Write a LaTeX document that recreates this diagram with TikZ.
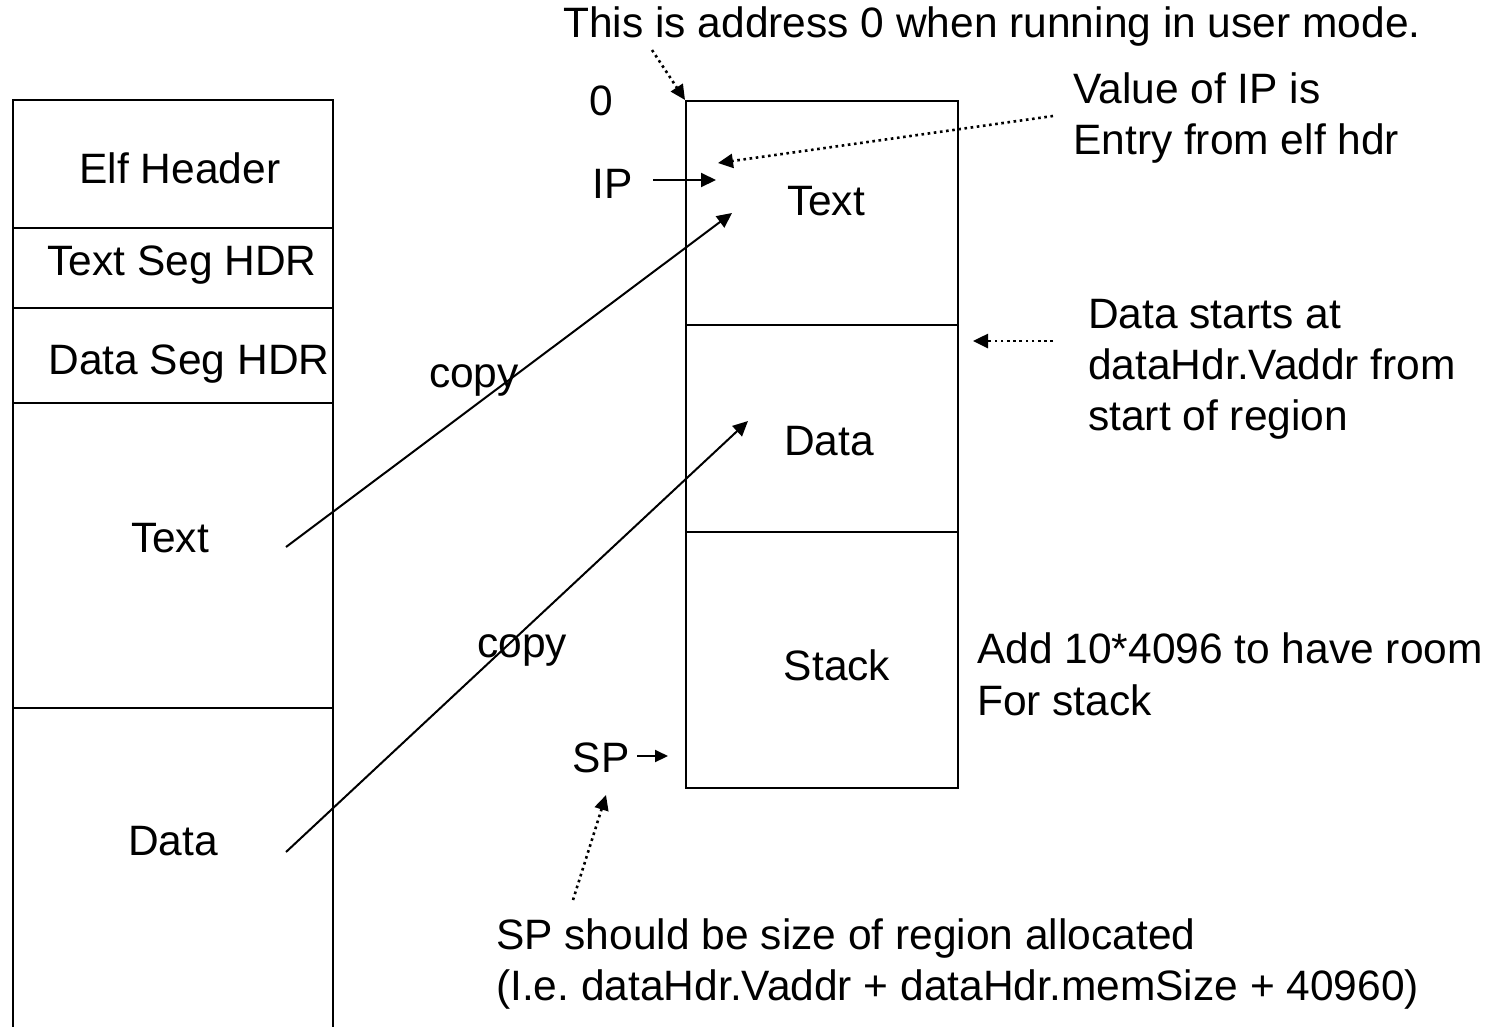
\documentclass[tikz,border=0pt]{standalone}
\usepackage{fontspec}
\setmainfont{Liberation Sans}
\usetikzlibrary{arrows.meta}
\frenchspacing
\begin{document}
\begin{tikzpicture}[x=1pt,y=-1pt,
  frame/.style={line width=2.2pt},
  seg/.style={draw,line width=2.2pt,inner sep=0pt,minimum width=272pt},
  lbl/.style={font=\fontsize{42.5}{51}\selectfont,inner sep=0pt,anchor=base},
  ann/.style={font=\fontsize{42.5}{51}\selectfont,inner sep=0pt,anchor=base west},
  solidarrow/.style={line width=2pt,-{Triangle[length=15pt,width=14pt]}},
  smallarrow/.style={line width=2pt,-{Triangle[length=13pt,width=12pt]}},
  dotarrow/.style={line width=2.6pt,dash pattern=on 2.6pt off 3.6pt,-{Triangle[length=15pt,width=14pt]}}]
\useasboundingbox (0,0) rectangle (1501,1026);
\clip (0,0) rectangle (1501,1026);
% left file box
\draw[frame] (13,1040) -- (13,100) -- (333,100) -- (333,1040);
\draw[frame] (13,228) -- (333,228);
\draw[frame] (13,308) -- (333,308);
\draw[frame] (13,403) -- (333,403);
\draw[frame] (13,708) -- (333,708);
\node[lbl] (elfhdr) at (180,183) {Elf Header};
\node[lbl] (tseghdr) at (182,275) {Text Seg HDR};
\node[lbl] (dseghdr) at (189,374) {Data Seg HDR};
\node[lbl] (ftext) at (170,552) {Text};
\node[lbl] (fdata) at (173,855) {Data};
% right memory box
\node[seg,minimum height=224pt,anchor=north west] (mtext) at (685,100) {};
\node[seg,minimum height=207pt,anchor=north west] (mdata) at (685,324) {};
\node[seg,minimum height=256pt,anchor=north west] (mstack) at (685,531) {};
\node[lbl] (ltext) at (826,215) {Text};
\node[lbl] (ldata) at (829,455) {Data};
\node[lbl] (lstack) at (837,680) {Stack};
\node[lbl] (zero) at (601,115) {0};
\node[lbl] (ip) at (613,198) {IP};
\node[lbl] (sp) at (601,772) {SP};
\node[lbl] (copya) at (474,387) {copy};
\node[lbl] (copyb) at (522,657) {copy};
% annotations
\node[ann] (top) at (563,37) {This is address 0 when running in user mode.};
\node[ann] (valip) at (1073,103) {Value of IP is};
\node[ann] (entry) at (1073,154) {Entry from elf hdr};
\node[ann] (dsa) at (1088,328) {Data starts at};
\node[ann] (dsb) at (1088,379) {dataHdr.Vaddr from};
\node[ann] (dsc) at (1088,430) {start of region};
\node[ann] (adda) at (977,663) {Add 10*4096 to have room};
\node[ann] (addb) at (977,715) {For stack};
\node[ann] (spa) at (496,949) {SP should be size of region allocated};
\node[ann] (spb) at (496,1000) {(I.e. dataHdr.Vaddr + dataHdr.memSize + 40960)};
% connector end points
\coordinate (c0s) at (652,50);
\coordinate (ips) at (1053,116);
\coordinate (ipt) at (718,163);
\coordinate (ipas) at (653,180);
\coordinate (ipat) at (716,180);
\coordinate (cas) at (286,547);
\coordinate (cat) at (732,213);
\coordinate (cbs) at (286,852);
\coordinate (cbt) at (748,421);
\coordinate (dss) at (1053,341);
\coordinate (dst) at (973,341);
\coordinate (spas) at (637,756);
\coordinate (spat) at (668,756);
\coordinate (sps) at (573,900);
\coordinate (spt) at (606,795);
% connectors
\draw[dotarrow] (c0s) -- (mtext.north west);
\draw[dotarrow] (ips) -- (ipt);
\draw[solidarrow] (ipas) -- (ipat);
\draw[solidarrow] (cas) -- (cat);
\draw[solidarrow] (cbs) -- (cbt);
\draw[dotarrow] (dss) -- (dst);
\draw[smallarrow] (spas) -- (spat);
\draw[dotarrow] (sps) -- (spt);
\end{tikzpicture}
\end{document}
